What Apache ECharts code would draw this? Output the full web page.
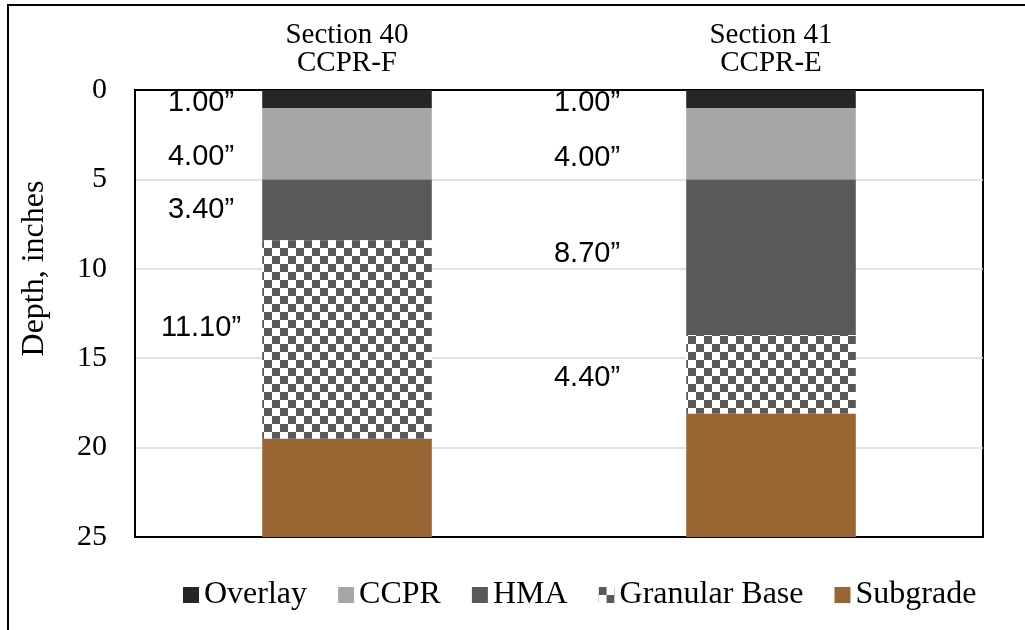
<!DOCTYPE html>
<html>
<head>
<meta charset="utf-8">
<style>
  html, body { margin: 0; padding: 0; background: #fff; }
  #chart { width: 1025px; height: 630px; }
</style>
<script src="https://cdn.jsdelivr.net/npm/echarts@6/dist/echarts.min.js"></script>
</head>
<body>
<div id="chart"></div>
<script>
// Pavement layer thicknesses (inches) for each test section, top to bottom
const categories = ['Section 40\nCCPR-F', 'Section 41\nCCPR-E'];
const overlay = [1.0, 1.0];
const ccpr = [4.0, 4.0];
const hma = [3.4, 8.7];
const granularBase = [11.1, 4.4];
const subgrade = [5.5, 6.9];
const depthTicks = { min: 0, max: 25, step: 5 };

// Checkerboard fill for the granular base layer
function checkerPattern(cell, dark) {
  const c = document.createElement('canvas');
  c.width = c.height = cell * 2;
  const g = c.getContext('2d');
  g.fillStyle = '#ffffff';
  g.fillRect(0, 0, cell * 2, cell * 2);
  g.fillStyle = dark;
  g.fillRect(0, 0, cell, cell);
  g.fillRect(cell, cell, cell, cell);
  return { image: c, repeat: 'repeat' };
}

// Thickness labels sit to the left of each column
const labelShiftX = [-146, -184];

function layer(name, values, fill, shiftY) {
  return {
    name: name,
    type: 'bar',
    stack: 'depth',
    barWidth: '40%',
    itemStyle: { color: fill },
    label: {
      show: !!shiftY,
      position: 'inside',
      color: '#000',
      fontFamily: 'Liberation Sans',
      fontSize: 29,
      formatter: p => p.value.toFixed(2) + '\u201D'
    },
    data: values.map((v, i) => shiftY
      ? { value: v, label: { offset: [labelShiftX[i], shiftY[i]] } }
      : v)
  };
}

const chart = echarts.init(document.getElementById('chart'), null, { renderer: 'canvas' });

chart.setOption({
  animation: false,
  backgroundColor: '#ffffff',
  textStyle: { fontFamily: 'Liberation Serif', color: '#000' },
  grid: {
    left: 135, right: 42, top: 90, bottom: 93,
    show: true, borderColor: '#000', borderWidth: 2
  },
  xAxis: {
    type: 'category',
    position: 'top',
    data: categories,
    axisLine: { show: true, lineStyle: { color: '#000', width: 2 } },
    axisTick: { show: false },
    axisLabel: {
      fontFamily: 'Liberation Serif', fontSize: 29, lineHeight: 28,
      color: '#000', margin: 13
    }
  },
  yAxis: {
    type: 'value',
    inverse: true,
    min: depthTicks.min,
    max: depthTicks.max,
    interval: depthTicks.step,
    name: 'Depth, inches',
    nameLocation: 'middle',
    nameRotate: 90,
    nameGap: 84,
    nameTextStyle: {
      fontFamily: 'Liberation Serif', fontSize: 32, color: '#000',
      padding: [0, 0, 0, 90]
    },
    axisLine: { show: true, lineStyle: { color: '#000', width: 2 } },
    axisTick: { show: false },
    axisLabel: {
      fontFamily: 'Liberation Serif', fontSize: 30, color: '#000', margin: 28
    },
    splitLine: {
      showMinLine: false,
      showMaxLine: false,
      lineStyle: { color: '#d9d9d9', width: 1.5 }
    }
  },
  legend: {
    top: 574,
    left: 178,
    itemWidth: 16,
    itemHeight: 16,
    itemGap: 31,
    icon: 'rect',
    textStyle: { fontFamily: 'Liberation Serif', fontSize: 32, color: '#000' },
    data: ['Overlay', 'CCPR', 'HMA', 'Granular Base', 'Subgrade']
  },
  graphic: [{
    type: 'rect',
    shape: { x: 8, y: 5, width: 1200, height: 800 },
    style: { fill: 'none', stroke: '#000', lineWidth: 2 },
    silent: true
  }],
  series: [
    layer('Overlay', overlay, '#262626', [4, 4]),
    layer('CCPR', ccpr, '#a6a6a6', [13, 14]),
    layer('HMA', hma, '#595959', [0, -3]),
    layer('Granular Base', granularBase, checkerPattern(8, '#595959'), [-11, 4]),
    layer('Subgrade', subgrade, '#996633', null)
  ]
});
</script>
</body>
</html>
